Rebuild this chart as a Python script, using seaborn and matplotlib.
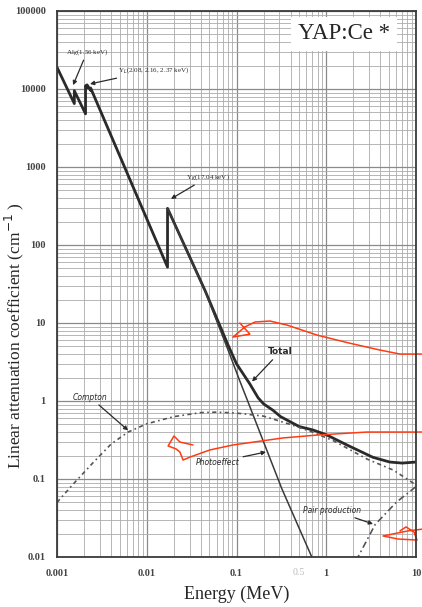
import numpy as np
import pandas as pd
import seaborn as sns
import matplotlib
matplotlib.use("Agg")
import matplotlib.pyplot as plt

# curves (energy in MeV, mu in 1/cm)
total_E = [0.001, 0.00156, 0.00156, 0.00208, 0.00208, 0.00216, 0.00216, 0.00237, 0.00237,
           0.01704, 0.01704, 0.03, 0.045, 0.08, 0.1, 0.141, 0.174, 0.2, 0.255, 0.31, 0.5,
           0.71, 1.0, 1.7, 3.3, 5.1, 7.0, 10.0]
total_mu = [19000, 6500, 9500, 4800, 11000, 10400, 11300, 9600, 10300,
            52, 295, 71, 25.5, 5.3, 3.0, 1.65, 1.1, 0.92, 0.76, 0.63, 0.47,
            0.425, 0.37, 0.273, 0.19, 0.165, 0.16, 0.165]

photo_E = [0.01704, 0.03, 0.045, 0.08, 0.109, 0.131, 0.2, 0.32, 0.69, 0.8]
photo_mu = [295, 70, 25, 4.6, 1.8, 1.05, 0.30, 0.075, 0.01, 0.0065]

compton_E = [0.001, 0.0015, 0.0025, 0.004, 0.0062, 0.01, 0.02, 0.04, 0.06, 0.1, 0.2,
             0.4, 0.7, 1.2, 2.85, 5.6, 10.0]
compton_mu = [0.05, 0.085, 0.16, 0.28, 0.40, 0.51, 0.63, 0.71, 0.72, 0.70, 0.64,
              0.50, 0.40, 0.31, 0.18, 0.13, 0.084]

pair_E = [1.8, 2.26, 3.5, 6.0, 10.0]
pair_mu = [0.006, 0.01, 0.026, 0.05, 0.08]

# red hand-drawn marks on top of the scan
red1_E = [0.109, 0.141, 0.0914, 0.124, 0.161, 0.236, 0.366, 0.789, 1.84, 3.97, 6.63, 11.7]
red1_mu = [10.0, 7.2, 6.6, 8.9, 10.3, 10.6, 9.4, 7.0, 5.5, 4.5, 4.0, 4.0]
red2_E = [0.0327, 0.0234, 0.0201, 0.0173, 0.0212, 0.0234, 0.0254, 0.0303, 0.0507, 0.0914,
          0.33, 0.789, 2.84, 11.7]
red2_mu = [0.273, 0.298, 0.356, 0.265, 0.243, 0.222, 0.175, 0.191, 0.236, 0.273,
           0.336, 0.366, 0.40, 0.40]
red3_E = [12.3, 8.15, 4.29, 6.3, 10.26, 9.5, 7.74, 6.63]
red3_mu = [0.0229, 0.0216, 0.0186, 0.0170, 0.0165, 0.0209, 0.0243, 0.0216]

xticks = [0.001, 0.01, 0.1, 1, 10]
xticklabels = ["0.001", "0.01", "0.1", "1", "10"]
yticks = [0.01, 0.1, 1, 10, 100, 1000, 10000, 100000]
yticklabels = ["0.01", "0.1", "1", "10", "100", "1000", "10000", "100000"]

sns.set_style("white")
plt.rcParams["font.family"] = ["Liberation Serif", "DejaVu Serif"]

fig = plt.figure(figsize=(4.22, 6.07), dpi=100)
ax = fig.add_axes([57 / 422, 1 - 557 / 607, 359 / 422, 546 / 607])
ax.set(xscale="log", yscale="log")

ink = "#2a2a2a"
sns.lineplot(x=total_E, y=total_mu, sort=False, estimator=None, color=ink, lw=2.0, ax=ax)
sns.lineplot(x=photo_E, y=photo_mu, sort=False, estimator=None, color="#3a3a3a", lw=1.1, ax=ax)
sns.lineplot(x=compton_E, y=compton_mu, sort=False, estimator=None, color="#555555", lw=1.2,
             ls=(0, (2.5, 2, 1, 2)), ax=ax)
sns.lineplot(x=pair_E, y=pair_mu, sort=False, estimator=None, color="#555555", lw=1.2,
             ls=(0, (4, 2, 1, 2)), ax=ax)

red = "#ff3b12"
for ex, ey in [(red1_E, red1_mu), (red2_E, red2_mu), (red3_E, red3_mu)]:
    sns.lineplot(x=ex, y=ey, sort=False, estimator=None, color=red, lw=1.1, ax=ax)
for line in ax.lines[-3:]:
    line.set_clip_on(False)

ax.set_xlim(0.001, 10)
ax.set_ylim(0.01, 100000)
ax.set_xticks(xticks)
ax.set_xticklabels(xticklabels)
ax.set_yticks(yticks)
ax.set_yticklabels(yticklabels)
ax.tick_params(which="both", length=0, labelsize=7.5, colors="#444444")
ax.tick_params(axis="x", pad=9)
ax.tick_params(axis="y", pad=8)
for t in ax.get_xticklabels() + ax.get_yticklabels():
    t.set_fontweight("bold")
ax.grid(True, which="major", color="#8a8a8a", lw=0.9)
ax.grid(True, which="minor", color="#ababab", lw=0.6)
ax.set_axisbelow(True)
for s in ax.spines.values():
    s.set_color("#3a3a3a")
    s.set_linewidth(1.3)

ax.text(0.5, 0.0063, "0.5", fontsize=7, color="#bbbbbb", ha="center", va="center")

ax.set_xlabel("Energy (MeV)", fontsize=13, labelpad=5)
ax.set_ylabel("Linear attenuation coefficient (cm$^{-1}$ )", fontsize=12.5)
ax.yaxis.set_label_coords(-0.085, 0.405)

ax.text(0.80, 0.958, "YAP:Ce *", transform=ax.transAxes, fontsize=16.5, ha="center", va="center",
        bbox=dict(facecolor="white", edgecolor="none", pad=5))

arr = dict(arrowstyle="-|>", color=ink, lw=0.9, mutation_scale=6, shrinkA=0, shrinkB=0)
small = dict(fontsize=5, color=ink)
ax.annotate("Al$_K$(1.56 keV)", xy=(0.00151, 11200), xytext=(0.00216, 29800),
            ha="center", va="center", arrowprops=arr, **small)
ax.annotate("Y$_L$(2.08, 2.16, 2.37 keV)", xy=(0.00233, 11600), xytext=(0.0048, 17500),
            ha="left", va="center", arrowprops=arr, **small)
ax.annotate("Y$_K$(17.04 keV)", xy=(0.0186, 390), xytext=(0.0274, 745),
            ha="left", va="center", arrowprops=arr, **small)

hand = dict(fontsize=5.5, color=ink, family=["DejaVu Sans"], style="italic")
ax.annotate("Total", xy=(0.149, 1.78), xytext=(0.305, 4.25), ha="center", va="center",
            arrowprops=arr, fontweight="bold", fontsize=6.5, color=ink, family=["DejaVu Sans"])
ax.annotate("Compton", xy=(0.0062, 0.42), xytext=(0.00233, 1.12), ha="center", va="center",
            arrowprops=arr, **hand)
ax.annotate("Photoeffect", xy=(0.213, 0.222), xytext=(0.0622, 0.165), ha="center", va="center",
            arrowprops=arr, **hand)
ax.annotate("Pair production", xy=(3.32, 0.0265), xytext=(1.16, 0.04), ha="center", va="center",
            arrowprops=arr, **hand)

fig.savefig("out.png", dpi=100)
